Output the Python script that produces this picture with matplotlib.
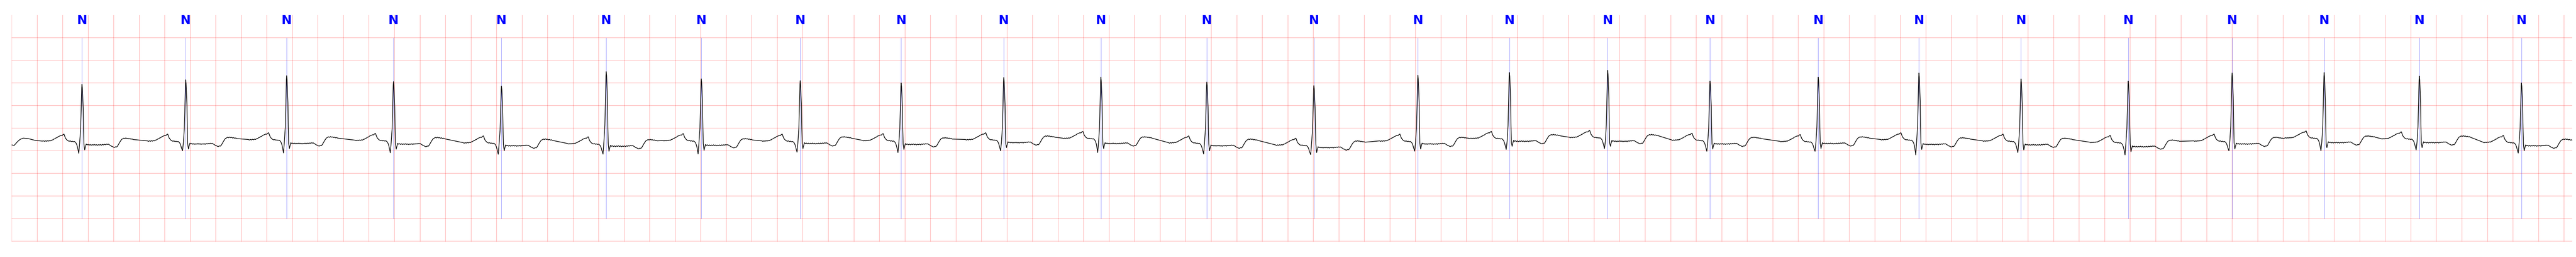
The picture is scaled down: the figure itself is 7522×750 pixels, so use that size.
"""ECG strip (about 20 s, one lead) with beat annotations on ECG paper."""

import matplotlib

matplotlib.use("Agg")
import matplotlib.pyplot as plt
import numpy as np

# beat annotations (R peak time in s) and symbols
r_times = [0.551, 1.364, 2.155, 2.992, 3.838, 4.659, 5.404, 6.179, 6.970,
           7.774, 8.535, 9.365, 10.204, 11.019, 11.736, 12.506, 13.308,
           14.156, 14.945, 15.745, 16.585, 17.399, 18.120, 18.866, 19.666]
ann_symbols = ["N"] * len(r_times)

# per-beat levels (mV)
r_amps = [1.47, 1.57, 1.66, 1.53, 1.43, 1.75, 1.59, 1.55, 1.50, 1.62, 1.63,
          1.52, 1.44, 1.67, 1.73, 1.78, 1.54, 1.63, 1.72, 1.59, 1.54, 1.72,
          1.73, 1.65, 1.50]
q_amps = [-0.055, 0.0, -0.048, -0.045, -0.076, -0.073, -0.068, -0.03, -0.04,
          0.0, -0.04, -0.07, -0.085, -0.008, 0.03, 0.05, -0.01, -0.01, -0.09,
          -0.04, -0.09, 0.0, 0.0, 0.02, -0.05]
st_levels = [0.13, 0.15, 0.16, 0.146, 0.11, 0.10, 0.12, 0.16, 0.14, 0.18,
             0.16, 0.11, 0.07, 0.15, 0.21, 0.21, 0.15, 0.16, 0.14, 0.13,
             0.09, 0.15, 0.18, 0.18, 0.11]
p_levels = [0.37, 0.37, 0.40, 0.385, 0.33, 0.31, 0.38, 0.37, 0.38, 0.40,
            0.43, 0.33, 0.28, 0.37, 0.43, 0.45, 0.39, 0.36, 0.40, 0.37,
            0.34, 0.37, 0.44, 0.42, 0.34]

# trace before the first annotated beat
lead_t = [0.0, 0.02, 0.045, 0.065, 0.09, 0.13, 0.185, 0.24]
lead_v = [0.13, 0.12, 0.20, 0.25, 0.28, 0.27, 0.23, 0.215]

# beat shape read from the first beats: P wave (relative to P peak level)
pre_dt = [-0.300, -0.292, -0.284, -0.276, -0.268, -0.260, -0.252, -0.244,
          -0.236, -0.228, -0.220, -0.212, -0.204, -0.196, -0.188, -0.180,
          -0.172, -0.164, -0.156, -0.148, -0.141, -0.136, -0.130, -0.124,
          -0.116, -0.108, -0.100, -0.092, -0.084, -0.076, -0.068, -0.060,
          -0.052, -0.046, -0.040, -0.034]
pre_rel = [-0.150, -0.162, -0.148, -0.160, -0.145, -0.156, -0.142, -0.150,
           -0.132, -0.128, -0.110, -0.104, -0.085, -0.080, -0.060, -0.050,
           -0.040, -0.030, -0.034, -0.010, 0.000, -0.040, -0.085, -0.110,
           -0.135, -0.150, -0.158, -0.150, -0.166, -0.158, -0.170, -0.162,
           -0.180, -0.200, -0.240, -0.300]

# QRS spike (Q, then fractions of R amplitude)
qrs_dt = [-0.025, -0.018, -0.0107, -0.006, -0.002, 0.0, 0.003, 0.0097,
          0.0125, 0.0155]
qrs_frac = [0.12, 0.32, 0.64, 0.95, 1.0, 0.95, 0.64, 0.32, 0.10]

# S, ST segment and T wave (relative to ST level)
post_dt = [0.0215, 0.027, 0.033, 0.040, 0.048, 0.056, 0.064, 0.072, 0.080,
           0.088, 0.096, 0.104, 0.112, 0.120, 0.128, 0.136, 0.144, 0.152,
           0.160, 0.168, 0.176, 0.184, 0.192, 0.200, 0.208, 0.216, 0.224,
           0.232, 0.240, 0.248, 0.256, 0.264, 0.272, 0.280, 0.288, 0.296,
           0.304, 0.312, 0.320, 0.328, 0.336, 0.344, 0.352, 0.360, 0.368,
           0.376, 0.384, 0.392, 0.400]
post_rel = [-0.110, -0.040, 0.020, 0.000, 0.012, -0.006, 0.010, -0.008,
            0.008, -0.004, 0.012, -0.006, 0.008, -0.010, 0.006, -0.004,
            0.010, -0.008, 0.012, 0.000, 0.014, 0.004, 0.018, 0.010, 0.016,
            0.000, -0.012, -0.030, -0.036, -0.050, -0.056, -0.040, -0.046,
            -0.020, 0.020, 0.060, 0.095, 0.125, 0.135, 0.150, 0.138, 0.155,
            0.140, 0.148, 0.132, 0.142, 0.126, 0.134, 0.120]

t_end = 20.064


def build_trace():
    ts = [np.array(lead_t)]
    vs = [np.array(lead_v)]
    for k, r in enumerate(r_times):
        ts.append(r + np.array(pre_dt))
        vs.append(p_levels[k] + np.array(pre_rel))
        ts.append(r + np.array(qrs_dt))
        vs.append(np.concatenate([[q_amps[k]], r_amps[k] * np.array(qrs_frac)]))
        ts.append(r + np.array(post_dt))
        vs.append(st_levels[k] + np.array(post_rel))
    return np.concatenate(ts), np.concatenate(vs)


def main():
    t, sig = build_trace()

    fig = plt.figure(figsize=(75.22, 7.5), dpi=100)
    ax = fig.add_axes([34 / 7522, 45 / 750, 7477 / 7522, 661 / 750])

    # ECG paper grid
    for x in np.arange(0, t_end, 0.2):
        ax.axvline(x, color="red", alpha=0.25, lw=1.3, zorder=0)
    for y in np.arange(-2.0, 3.0, 0.5):
        ax.axhline(y, color="red", alpha=0.25, lw=1.3, zorder=0)

    ax.plot(t, sig, color="black", lw=1.4, zorder=3)

    ax.vlines(r_times, -1.5, 2.5, color="blue", alpha=0.5, lw=0.75, zorder=2)
    for x, s in zip(r_times, ann_symbols):
        ax.text(x, 2.8, s, color="blue", fontsize=26, fontweight="bold",
                ha="center", va="baseline")

    ax.set_xlim(0, t_end)
    ax.set_ylim(-2.006, 3.0)
    ax.set_xticks([])
    ax.set_yticks([])
    for sp in ax.spines.values():
        sp.set_visible(False)

    fig.savefig("out.png", dpi=100)


if __name__ == "__main__":
    main()
